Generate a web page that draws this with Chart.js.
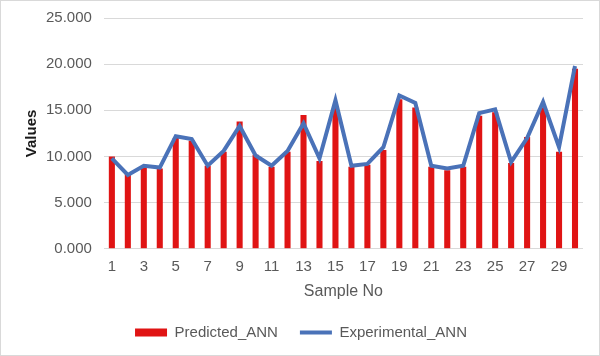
<!DOCTYPE html>
<html><head><meta charset="utf-8">
<script src="https://cdn.jsdelivr.net/npm/chart.js@4"></script>
<style>html,body{margin:0;padding:0;background:#fff}#wrap{width:600px;height:356px;position:relative}</style>
</head><body><div id="wrap"><canvas id="c" width="600" height="356"></canvas></div>
<script>
const categories = [1,2,3,4,5,6,7,8,9,10,11,12,13,14,15,16,17,18,19,20,21,22,23,24,25,26,27,28,29,30];
const predictedANN = [10.0, 8.1, 8.9, 8.7, 12.0, 11.7, 9.0, 10.5, 13.8, 10.2, 8.9, 10.5, 14.5, 9.5, 15.3, 8.9, 9.1, 10.7, 16.2, 15.3, 8.9, 8.5, 8.9, 14.4, 14.8, 9.3, 12.1, 15.3, 10.5, 19.5];
const experimentalANN = [9.8, 8.0, 9.0, 8.8, 12.2, 11.9, 9.0, 10.6, 13.3, 10.1, 9.0, 10.6, 13.6, 9.8, 16.1, 9.0, 9.2, 11.0, 16.6, 15.8, 9.0, 8.7, 9.0, 14.7, 15.1, 9.4, 12.0, 15.9, 11.0, 19.8];
const yTicks = [0, 5, 10, 15, 20, 25];

const FONT = '"Liberation Sans", Arial, sans-serif';
const GREY = '#595959';
const borderPlugin = {
  id: 'outerBorder',
  afterDraw(chart) {
    const ctx = chart.ctx;
    ctx.save();
    ctx.strokeStyle = '#d9d9d9';
    ctx.lineWidth = 1;
    ctx.strokeRect(0.5, 0.5, chart.width - 1, chart.height - 1);
    ctx.restore();
  }
};
new Chart(document.getElementById('c'), {
  data: {
    labels: categories,
    datasets: [
      { type: 'bar', label: 'Predicted_ANN', data: predictedANN, backgroundColor: '#e01414', borderWidth: 0,
        barPercentage: 0.38, categoryPercentage: 1, order: 1, pointStyle: 'rect' },
      { type: 'line', label: 'Experimental_ANN', data: experimentalANN, borderColor: '#4a72b8', backgroundColor: '#4a72b8',
        borderWidth: 4, pointRadius: 0, tension: 0, order: 0, pointStyle: 'line' }
    ]
  },
  options: {
    responsive: false, animation: false,
    layout: { padding: { left: 19, right: 17, top: 18, bottom: 6 } },
    plugins: {
      tooltip: { enabled: false },
      legend: {
        position: 'bottom',
        labels: {
          usePointStyle: true, pointStyleWidth: 32, boxHeight: 8, padding: 22,
          font: { family: FONT, size: 15 }, color: GREY,
          sort: (a, b) => a.datasetIndex - b.datasetIndex
        }
      }
    },
    scales: {
      x: {
        grid: { display: false, drawTicks: false },
        border: { display: false },
        ticks: { autoSkip: false, maxRotation: 0, padding: 9, color: GREY, font: { family: FONT, size: 15 },
          callback: function(v, i) { return i % 2 === 0 ? this.getLabelForValue(v) : ''; } },
        title: { display: true, text: 'Sample No', color: GREY, font: { family: FONT, size: 16 }, padding: { top: -3, bottom: 2 } }
      },
      y: {
        min: yTicks[0], max: yTicks[yTicks.length - 1],
        afterBuildTicks: (axis) => { axis.ticks = yTicks.map(v => ({ value: v })); },
        afterFit: (axis) => { axis.paddingTop = 0; axis.paddingBottom = 0; },
        grid: { color: '#d9d9d9', drawTicks: false },
        border: { display: false },
        ticks: { padding: 12, color: GREY, font: { family: FONT, size: 15 }, callback: v => Number(v).toFixed(3) },
        title: { display: true, text: 'Values', color: '#1a1a1a', font: { family: FONT, size: 15, weight: 'bold' }, padding: { top: 4, bottom: -7 } }
      }
    }
  },
  plugins: [borderPlugin]
});
</script></body></html>
